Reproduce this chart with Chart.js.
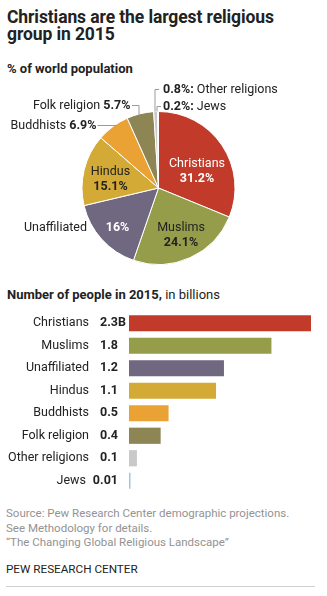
<!DOCTYPE html>
<html>
<head>
<meta charset="utf-8">
<script src="https://cdn.jsdelivr.net/npm/chart.js@4.4.1/dist/chart.umd.min.js"></script>
<style>
  html, body { margin:0; padding:0; background:#fff; }
  body { width:327px; height:596px; position:relative; overflow:hidden;
         font-family:"Roboto", sans-serif; color:#222; }
  .title { position:absolute; left:7px; top:9px; font-size:17.5px; font-weight:bold; line-height:17px; color:#222; letter-spacing:-0.1px; }
  .sub { position:absolute; left:7px; font-size:13px; font-weight:bold; color:#222; }
  .sub span { font-weight:normal; }
  .source { position:absolute; left:6px; top:506px; font-size:11.5px; line-height:14.5px; color:#939393; }
  .pew { position:absolute; left:6px; top:562px; font-size:11.7px; color:#222; }
  .rule { position:absolute; left:6px; top:586px; width:309px; height:1px; background:#d0d0d0; }
  canvas { position:absolute; left:0; }
</style>
</head>
<body>
<div class="title">Christians are the largest religious<br>group in 2015</div>
<div class="sub" style="top:61px">% of world population</div>
<canvas id="pie" width="327" height="200" style="top:80px"></canvas>
<div class="sub" style="top:287px">Number of people in 2015, <span>in billions</span></div>
<canvas id="bars" width="327" height="190" style="top:305px"></canvas>
<div class="source">Source: Pew Research Center demographic projections.<br>See Methodology for details.<br>“The Changing Global Religious Landscape”</div>
<div class="pew">PEW RESEARCH CENTER</div>
<div class="rule"></div>

<script>
  // religions, clockwise from the top of the pie
  const religions = ['Christians','Muslims','Unaffiliated','Hindus','Buddhists','Folk religion','Other religions','Jews'];
  const sharePct  = [31.2, 24.1, 16, 15.1, 6.9, 5.7, 0.8, 0.2];
  const billions  = [2.3, 1.8, 1.2, 1.1, 0.5, 0.4, 0.1, 0.01];
  const billionLabels = ['2.3B','1.8','1.2','1.1','0.5','0.4','0.1','0.01'];
  const colors = ['#c23b2a','#959d4a','#706780','#d4aa36','#eba234','#8d8553','#c9c9c9','#a3c4df'];

  const FONT = 'Roboto, sans-serif';
  const SIZE = 12.5;
  const DARK = '#222';

  function txt(ctx, s, x, y, opts){
    ctx.font = (opts.bold ? 'bold ' : '') + SIZE + 'px ' + FONT;
    ctx.fillStyle = opts.color || DARK;
    ctx.textAlign = opts.align || 'left';
    ctx.textBaseline = 'middle';
    ctx.fillText(s, x, y);
    return ctx.measureText(s).width;
  }

  // two runs on one line; boldFirst picks which run is bold
  function pair(ctx, a, b, x, y, align, boldFirst){
    ctx.font = (boldFirst ? 'bold ' : '') + SIZE + 'px ' + FONT;
    const w1 = ctx.measureText(a + ' ').width;
    ctx.font = (boldFirst ? '' : 'bold ') + SIZE + 'px ' + FONT;
    const w2 = ctx.measureText(b).width;
    const left = align === 'right' ? x - w1 - w2 : x;
    txt(ctx, a + ' ', left, y, {bold:boldFirst});
    txt(ctx, b, left + w1, y, {bold:!boldFirst});
  }

  const pieLabels = {
    id:'pieLabels',
    afterDatasetsDraw(chart){
      const ctx = chart.ctx;
      const arcs = chart.getDatasetMeta(0).data;
      const cx = arcs[0].x, cy = arcs[0].y;
      const r = arcs[0].outerRadius;
      ctx.save();
      // inside labels
      txt(ctx, religions[0], cx + 38.5, cy - 24, {color:'#fff', align:'center'});
      txt(ctx, sharePct[0] + '%', cx + 38.5, cy - 9, {color:'#fff', bold:true, align:'center'});
      txt(ctx, religions[1], cx + 22.5, cy + 40, {align:'center'});
      txt(ctx, sharePct[1] + '%', cx + 22.5, cy + 55, {bold:true, align:'center'});
      txt(ctx, sharePct[2] + '%', cx - 41, cy + 40, {color:'#fff', bold:true, align:'center'});
      txt(ctx, religions[2], cx - 71.5, cy + 40, {align:'right'});
      txt(ctx, religions[3], cx - 48, cy - 16, {align:'center'});
      txt(ctx, sharePct[3] + '%', cx - 48, cy - 1, {bold:true, align:'center'});

      // outside labels with leader lines
      ctx.strokeStyle = '#9a9a9a';
      ctx.lineWidth = 1;
      const edge = (i, k) => {
        const a = arcs[i];
        const ang = (a.startAngle + a.endAngle) / 2;
        return {x: cx + Math.cos(ang) * r * k, y: cy + Math.sin(ang) * r * k};
      };
      let e = edge(4, 0.92);
      ctx.beginPath(); ctx.moveTo(cx - 61, cy - 62.5); ctx.lineTo(e.x, cy - 62.5); ctx.stroke();
      pair(ctx, religions[4], sharePct[4] + '%', cx - 62, cy - 62.5, 'right', false);

      e = edge(5, 0.97);
      ctx.beginPath(); ctx.moveTo(cx - 26.5, cy - 82.5); ctx.lineTo(cx - 19.5, cy - 82.5); ctx.lineTo(cx - 19.5, e.y); ctx.stroke();
      pair(ctx, religions[5], sharePct[5] + '%', cx - 28, cy - 82.5, 'right', false);

      e = edge(6, 1);
      ctx.beginPath(); ctx.moveTo(cx + 0.5, cy - 98.5); ctx.lineTo(cx - 3.5, cy - 98.5); ctx.lineTo(cx - 3.5, e.y); ctx.stroke();
      pair(ctx, sharePct[6] + '%:', religions[6], cx + 4.5, cy - 98.5, 'left', true);
      e = edge(7, 1);
      ctx.beginPath(); ctx.moveTo(cx + 2.5, cy - 81.5); ctx.lineTo(cx - 1.5, cy - 81.5); ctx.lineTo(cx - 1.5, e.y); ctx.stroke();
      pair(ctx, sharePct[7] + '%:', religions[7], cx + 4.5, cy - 81.5, 'left', true);
      ctx.restore();
    }
  };

  new Chart(document.getElementById('pie'), {
    type:'pie',
    data:{ labels:religions, datasets:[{ data:sharePct, backgroundColor:colors, borderColor:'#fff', borderWidth:1 }] },
    options:{
      responsive:false, animation:false,
      layout:{ padding:{ top:31, bottom:15, left:81, right:91 } },
      plugins:{ legend:{display:false}, tooltip:{enabled:false} }
    },
    plugins:[pieLabels]
  });

  const barLabels = {
    id:'barLabels',
    afterDatasetsDraw(chart){
      const ctx = chart.ctx;
      ctx.save();
      chart.getDatasetMeta(0).data.forEach((bar, i) => {
        const y = bar.y;
        const num = billionLabels[i].replace('B','');
        const w = txt(ctx, num, 118, y, {bold:true, align:'right'});
        if (billionLabels[i].endsWith('B')) txt(ctx, 'B', 118, y, {bold:true});
        txt(ctx, religions[i], Math.min(89, 118 - w - 7), y, {align:'right'});
      });
      ctx.restore();
    }
  };

  new Chart(document.getElementById('bars'), {
    type:'bar',
    data:{ labels:religions, datasets:[{ data:billions, backgroundColor:colors, barPercentage:0.72, categoryPercentage:1, minBarLength:1.5 }] },
    options:{
      indexAxis:'y', responsive:false, animation:false,
      layout:{ padding:{ top:7, bottom:3, left:129, right:16 } },
      scales:{
        x:{ display:false, min:0, max:2.3 },
        y:{ display:false }
      },
      plugins:{ legend:{display:false}, tooltip:{enabled:false} }
    },
    plugins:[barLabels]
  });
</script>
</body>
</html>
